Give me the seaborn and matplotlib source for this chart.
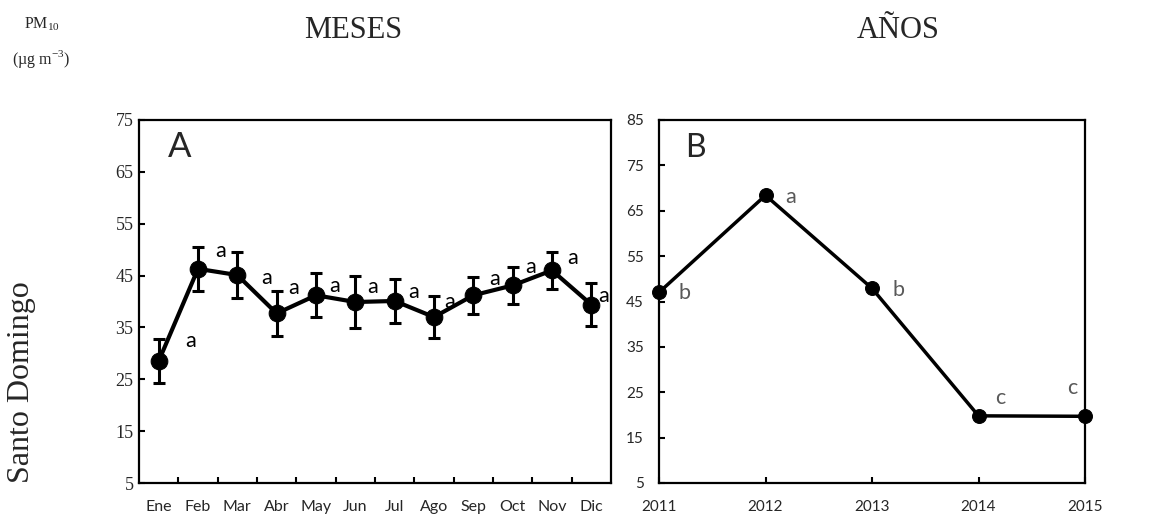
import numpy as np
import pandas as pd
import matplotlib
matplotlib.use("Agg")
import matplotlib.pyplot as plt
import seaborn as sns

# ---- data ----
months = ["Ene", "Feb", "Mar", "Abr", "May", "Jun", "Jul", "Ago", "Sep", "Oct", "Nov", "Dic"]
month_mean = [28.5, 46.3, 45.1, 37.7, 41.2, 39.9, 40.1, 37.0, 41.2, 43.1, 46.0, 39.4]
month_err = [4.3, 4.2, 4.4, 4.3, 4.2, 5.0, 4.3, 4.0, 3.6, 3.6, 3.6, 4.1]
month_letters = ["a"] * 12

years = [2011, 2012, 2013, 2014, 2015]
year_mean = [47.0, 68.4, 47.9, 19.8, 19.7]
year_letters = ["b", "a", "b", "c", "c"]

ylim_a = (5, 75)
ylim_b = (5, 85)

# ---- style / layout ----
month_letter_offsets = [(32, 20), (23, 18), (29, -3), (17, 25), (19, 9), (17, 15),
                        (19, 9), (16, 15), (21, 16), (18, 18), (21, 12), (12, 9)]
year_letter_offsets = [(26, -1), (25, -2), (26, -2), (22, 18), (-13, 28)]

sns.set_theme(style="white")
plt.rcParams["font.family"] = ["Lato", "DejaVu Sans"]
plt.rcParams["mathtext.fontset"] = "custom"
plt.rcParams["mathtext.rm"] = "Liberation Serif"
SERIF = ["Liberation Serif", "DejaVu Serif"]
SANS = ["Lato", "DejaVu Sans"]

W, H = 1161, 515
fig = plt.figure(figsize=(W / 100, H / 100), dpi=100)
fig.patch.set_facecolor("white")

def px_axes(l, t, r, b):
    return fig.add_axes([l / W, 1 - b / H, (r - l) / W, (b - t) / H])

axA = px_axes(139, 120, 611, 483)
axB = px_axes(659, 120, 1085, 483)

# ---- Panel A ----
dfA = pd.DataFrame({"x": np.arange(len(months)), "y": month_mean})
axA.errorbar(dfA["x"], dfA["y"], yerr=month_err, fmt="none", ecolor="black",
             elinewidth=2.2, capsize=4, capthick=2.2, zorder=2)
sns.lineplot(data=dfA, x="x", y="y", ax=axA, color="black", linewidth=3,
             marker="o", markersize=12, markeredgecolor="black",
             markerfacecolor="black", zorder=3)
for xi, yi, lab, off in zip(dfA["x"], month_mean, month_letters, month_letter_offsets):
    axA.annotate(lab, (xi, yi), xytext=off, textcoords="offset pixels",
                 ha="center", va="center", fontsize=15.5, family=SANS, color="black")

axA.set_xlim(-0.5, 11.5)
axA.set_ylim(*ylim_a)
axA.set_yticks(np.arange(ylim_a[0], ylim_a[1] + 1, 10))
axA.set_xticks(np.arange(len(months)))
axA.set_xticklabels(months)
axA.set_xticks(np.arange(len(months) - 1) + 0.5, minor=True)
axA.tick_params(axis="x", which="major", length=0, pad=12, labelsize=11.5)
axA.tick_params(axis="x", which="minor", direction="in", length=4.5, width=1.5,
                bottom=True, color="black")
axA.tick_params(axis="y", direction="in", length=4.5, width=1.5, left=True,
                pad=4, labelsize=13, color="black")
for t in axA.get_yticklabels():
    t.set_family(SERIF)
for t in axA.get_xticklabels():
    t.set_family(SANS)
axA.set_xlabel("")
axA.set_ylabel("")
fig.text(180 / W, 1 - 147 / H, "A", ha="center", va="center", fontsize=25, family=SANS)

# ---- Panel B ----
dfB = pd.DataFrame({"x": years, "y": year_mean})
sns.lineplot(data=dfB, x="x", y="y", ax=axB, color="black", linewidth=2.5,
             marker="o", markersize=10, markeredgecolor="black",
             markerfacecolor="black", clip_on=False, zorder=3)
for xi, yi, lab, off in zip(years, year_mean, year_letters, year_letter_offsets):
    axB.annotate(lab, (xi, yi), xytext=off, textcoords="offset pixels",
                 ha="center", va="center", fontsize=15.5, family=SANS, color="#595959")
axB.set_xlim(years[0], years[-1])
axB.set_ylim(*ylim_b)
axB.set_xticks(years)
axB.set_xticklabels([str(y) for y in years])
axB.set_yticks(np.arange(ylim_b[0], ylim_b[1] + 1, 10))
axB.tick_params(axis="x", direction="in", length=4.5, width=1.5, bottom=True,
                pad=12, labelsize=11, color="black")
axB.tick_params(axis="y", direction="in", length=4.5, width=1.5, left=True,
                pad=11, labelsize=11, color="black")
for t in axB.get_xticklabels() + axB.get_yticklabels():
    t.set_family(SANS)
axB.set_xlabel("")
axB.set_ylabel("")
fig.text(695 / W, 1 - 148 / H, "B", ha="center", va="center", fontsize=23, family=SANS)

for ax in (axA, axB):
    ax.set_facecolor("white")
    for s in ax.spines.values():
        s.set_visible(True)
        s.set_color("black")
        s.set_linewidth(1.6)

# ---- figure texts ----
fig.text(353 / W, 1 - 31 / H, "MESES", ha="center", va="center", fontsize=22, family=SERIF)
fig.text(898 / W, 1 - 31 / H, "AÑOS", ha="center", va="center", fontsize=22, family=SERIF)
fig.text(42 / W, 1 - 24 / H, r"PM$_{\mathrm{10}}$", ha="center", va="center",
         fontsize=11.5, family=SERIF)
fig.text(41 / W, 1 - 59 / H, r"(µg m$^{\mathrm{-3}}$)", ha="center", va="center",
         fontsize=11.5, family=SERIF)
fig.text(22 / W, 1 - 382 / H, "Santo Domingo", ha="center", va="center",
         rotation=90, fontsize=23, family=SERIF)

fig.savefig("out.png", dpi=100, facecolor="white")
